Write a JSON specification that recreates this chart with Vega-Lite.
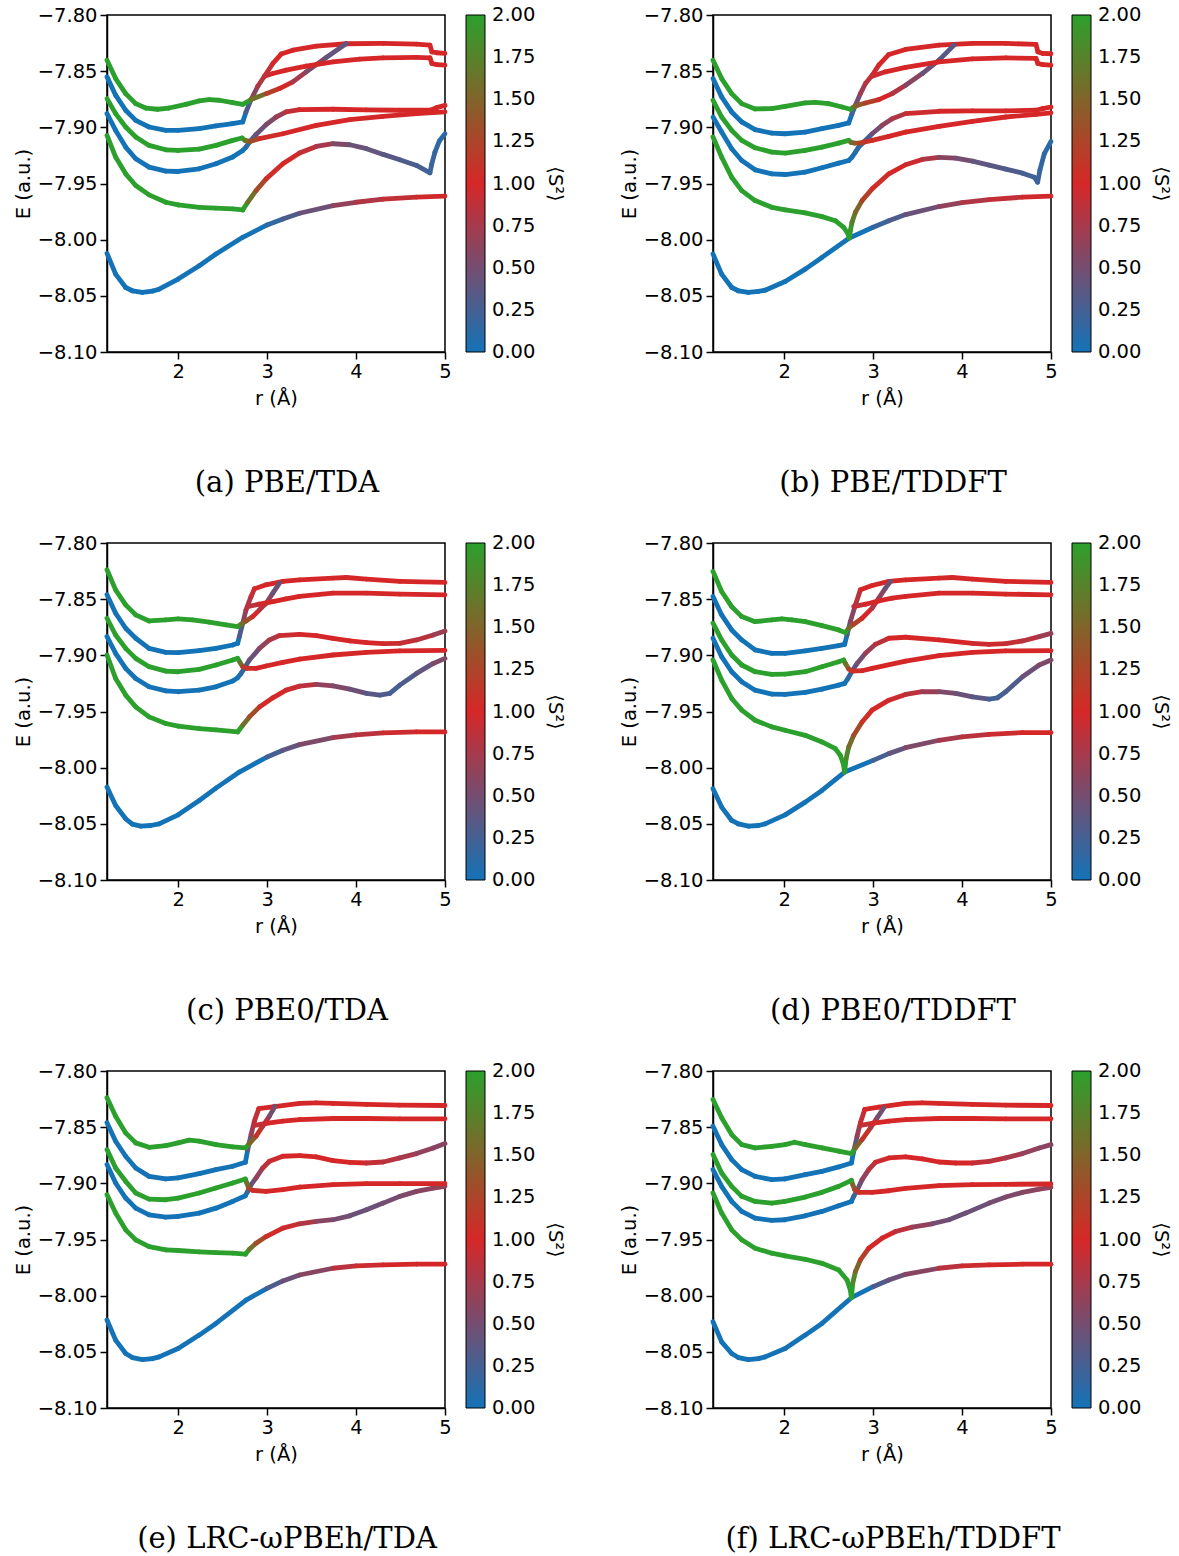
{
"$schema": "https://vega.github.io/schema/vega-lite/v6.json",
"background": "white",
"padding": {"left": 12, "top": 4, "right": 5, "bottom": 5},
"config": {
 "font": "DejaVu Sans",
 "view": {"stroke": "black", "strokeWidth": 1.5},
 "axis": {"domainColor": "black", "domainWidth": 1.5, "tickColor": "black", "tickWidth": 1.5, "tickSize": 7, "labelFontSize": 19.5, "labelColor": "black", "labelPadding": 3, "labelFont": "DejaVu Sans", "labelFlush": false, "labelOverlap": false, "titleFontSize": 19.5, "titleFontWeight": "normal", "titleColor": "black", "titleFont": "DejaVu Sans", "grid": false},
 "axisX": {"titlePadding": 9},
 "legend": {"orient": "right", "offset": 21, "padding": 0, "gradientLength": 337, "gradientThickness": 19, "gradientStrokeColor": "black", "gradientStrokeWidth": 1, "labelFontSize": 19.5, "labelColor": "black", "labelFont": "DejaVu Sans", "labelOffset": 10, "labelOverlap": false, "titleFont": "DejaVu Sans", "titleFontSize": 19.5, "titleFontWeight": "normal", "titleColor": "black", "titleOrient": "right", "titleAngle": 270, "titleAnchor": "middle", "titlePadding": 10},
 "title": {"font": "DejaVu Serif", "fontSize": 29, "fontWeight": "normal", "color": "black", "orient": "bottom", "offset": 61, "anchor": "middle", "frame": "group", "dx": 11}
},
"data": {"values": [
{"p":"a","c":0,"r":1.2,"E":-8.0122,"s":0},{"p":"a","c":0,"r":1.297,"E":-8.0307,"s":0},{"p":"a","c":0,"r":1.41,"E":-8.0426,"s":0},{"p":"a","c":0,"r":1.485,"E":-8.0455,"s":0},{"p":"a","c":0,"r":1.598,"E":-8.047,"s":0},{"p":"a","c":0,"r":1.711,"E":-8.0458,"s":0},{"p":"a","c":0,"r":1.786,"E":-8.0441,"s":0},{"p":"a","c":0,"r":2.0,"E":-8.0351,"s":0},{"p":"a","c":0,"r":2.237,"E":-8.0232,"s":0},{"p":"a","c":0,"r":2.425,"E":-8.0128,"s":0},{"p":"a","c":0,"r":2.726,"E":-7.9979,"s":0},{"p":"a","c":0,"r":3.0,"E":-7.9869,"s":0.15},{"p":"a","c":0,"r":3.177,"E":-7.9816,"s":0.3},{"p":"a","c":0,"r":3.365,"E":-7.9765,"s":0.45},{"p":"a","c":0,"r":3.741,"E":-7.9697,"s":0.65},{"p":"a","c":0,"r":4.0,"E":-7.9667,"s":0.8},{"p":"a","c":0,"r":4.305,"E":-7.964,"s":0.9},{"p":"a","c":0,"r":4.68,"E":-7.9622,"s":0.97},{"p":"a","c":0,"r":5.0,"E":-7.9613,"s":1},
{"p":"a","c":1,"r":1.2,"E":-7.9072,"s":2},{"p":"a","c":1,"r":1.297,"E":-7.9265,"s":2},{"p":"a","c":1,"r":1.41,"E":-7.9414,"s":2},{"p":"a","c":1,"r":1.523,"E":-7.9518,"s":2},{"p":"a","c":1,"r":1.673,"E":-7.9601,"s":2},{"p":"a","c":1,"r":1.861,"E":-7.9667,"s":2},{"p":"a","c":1,"r":2.0,"E":-7.9691,"s":2},{"p":"a","c":1,"r":2.237,"E":-7.9712,"s":2},{"p":"a","c":1,"r":2.425,"E":-7.972,"s":2},{"p":"a","c":1,"r":2.613,"E":-7.9726,"s":2},{"p":"a","c":1,"r":2.726,"E":-7.9735,"s":2},{"p":"a","c":1,"r":2.782,"E":-7.9667,"s":1.6},{"p":"a","c":1,"r":2.876,"E":-7.9563,"s":1.3},{"p":"a","c":1,"r":2.989,"E":-7.9459,"s":1.05},{"p":"a","c":1,"r":3.177,"E":-7.9324,"s":1},{"p":"a","c":1,"r":3.365,"E":-7.9229,"s":0.9},{"p":"a","c":1,"r":3.553,"E":-7.917,"s":0.75},{"p":"a","c":1,"r":3.741,"E":-7.9146,"s":0.55},{"p":"a","c":1,"r":3.929,"E":-7.9155,"s":0.45},{"p":"a","c":1,"r":4.117,"E":-7.919,"s":0.4},{"p":"a","c":1,"r":4.305,"E":-7.9241,"s":0.35},{"p":"a","c":1,"r":4.492,"E":-7.9289,"s":0.3},{"p":"a","c":1,"r":4.68,"E":-7.9339,"s":0.25},{"p":"a","c":1,"r":4.831,"E":-7.9405,"s":0.2},{"p":"a","c":1,"r":4.85,"E":-7.933,"s":0.18},{"p":"a","c":1,"r":4.887,"E":-7.9221,"s":0.15},{"p":"a","c":1,"r":4.936,"E":-7.9122,"s":0.12},{"p":"a","c":1,"r":5.0,"E":-7.9057,"s":0.1},
{"p":"a","c":2,"r":1.2,"E":-7.8878,"s":0},{"p":"a","c":2,"r":1.297,"E":-7.9027,"s":0},{"p":"a","c":2,"r":1.41,"E":-7.9176,"s":0},{"p":"a","c":2,"r":1.523,"E":-7.928,"s":0},{"p":"a","c":2,"r":1.673,"E":-7.9354,"s":0},{"p":"a","c":2,"r":1.861,"E":-7.939,"s":0},{"p":"a","c":2,"r":2.0,"E":-7.9393,"s":0},{"p":"a","c":2,"r":2.237,"E":-7.9369,"s":0},{"p":"a","c":2,"r":2.425,"E":-7.9324,"s":0},{"p":"a","c":2,"r":2.613,"E":-7.9265,"s":0},{"p":"a","c":2,"r":2.726,"E":-7.9206,"s":0},{"p":"a","c":2,"r":2.763,"E":-7.9176,"s":0.15},{"p":"a","c":2,"r":2.801,"E":-7.9131,"s":0.3},{"p":"a","c":2,"r":2.876,"E":-7.9063,"s":0.45},{"p":"a","c":2,"r":2.989,"E":-7.8976,"s":0.55},{"p":"a","c":2,"r":3.102,"E":-7.8908,"s":0.7},{"p":"a","c":2,"r":3.214,"E":-7.8863,"s":0.9},{"p":"a","c":2,"r":3.365,"E":-7.8842,"s":1},{"p":"a","c":2,"r":3.741,"E":-7.8839,"s":1},{"p":"a","c":2,"r":4.117,"E":-7.8845,"s":1},{"p":"a","c":2,"r":4.492,"E":-7.8848,"s":1},{"p":"a","c":2,"r":4.831,"E":-7.8848,"s":1},{"p":"a","c":2,"r":4.906,"E":-7.8825,"s":1},{"p":"a","c":2,"r":5.0,"E":-7.8804,"s":1},
{"p":"a","c":3,"r":1.2,"E":-7.8744,"s":2},{"p":"a","c":3,"r":1.297,"E":-7.8878,"s":2},{"p":"a","c":3,"r":1.41,"E":-7.8997,"s":2},{"p":"a","c":3,"r":1.523,"E":-7.9086,"s":2},{"p":"a","c":3,"r":1.673,"E":-7.9161,"s":2},{"p":"a","c":3,"r":1.861,"E":-7.92,"s":2},{"p":"a","c":3,"r":2.0,"E":-7.9206,"s":2},{"p":"a","c":3,"r":2.237,"E":-7.9194,"s":2},{"p":"a","c":3,"r":2.425,"E":-7.9161,"s":2},{"p":"a","c":3,"r":2.613,"E":-7.9116,"s":2},{"p":"a","c":3,"r":2.718,"E":-7.9095,"s":2},{"p":"a","c":3,"r":2.752,"E":-7.9116,"s":1.6},{"p":"a","c":3,"r":2.808,"E":-7.9125,"s":1.3},{"p":"a","c":3,"r":2.914,"E":-7.9101,"s":1.05},{"p":"a","c":3,"r":3.177,"E":-7.9057,"s":1},{"p":"a","c":3,"r":3.553,"E":-7.8982,"s":1},{"p":"a","c":3,"r":3.929,"E":-7.8932,"s":1},{"p":"a","c":3,"r":4.305,"E":-7.8902,"s":1},{"p":"a","c":3,"r":4.68,"E":-7.8878,"s":1},{"p":"a","c":3,"r":5.0,"E":-7.8863,"s":1},
{"p":"a","c":4,"r":1.2,"E":-7.8551,"s":0},{"p":"a","c":4,"r":1.297,"E":-7.8714,"s":0},{"p":"a","c":4,"r":1.41,"E":-7.8848,"s":0},{"p":"a","c":4,"r":1.523,"E":-7.8938,"s":0},{"p":"a","c":4,"r":1.673,"E":-7.8997,"s":0},{"p":"a","c":4,"r":1.861,"E":-7.9027,"s":0},{"p":"a","c":4,"r":2.0,"E":-7.9027,"s":0},{"p":"a","c":4,"r":2.237,"E":-7.9012,"s":0},{"p":"a","c":4,"r":2.425,"E":-7.8988,"s":0},{"p":"a","c":4,"r":2.613,"E":-7.8967,"s":0},{"p":"a","c":4,"r":2.726,"E":-7.8952,"s":0},{"p":"a","c":4,"r":2.763,"E":-7.8863,"s":0.3},{"p":"a","c":4,"r":2.82,"E":-7.8753,"s":0.6},{"p":"a","c":4,"r":2.895,"E":-7.8634,"s":0.8},{"p":"a","c":4,"r":2.97,"E":-7.8545,"s":0.9},{"p":"a","c":4,"r":3.064,"E":-7.8432,"s":1},{"p":"a","c":4,"r":3.158,"E":-7.8348,"s":1},{"p":"a","c":4,"r":3.289,"E":-7.8313,"s":1},{"p":"a","c":4,"r":3.553,"E":-7.8277,"s":1},{"p":"a","c":4,"r":3.891,"E":-7.8256,"s":1},{"p":"a","c":4,"r":4.305,"E":-7.8253,"s":1},{"p":"a","c":4,"r":4.68,"E":-7.8259,"s":1},{"p":"a","c":4,"r":4.831,"E":-7.8268,"s":1},{"p":"a","c":4,"r":4.853,"E":-7.8328,"s":1},{"p":"a","c":4,"r":4.906,"E":-7.8336,"s":1},{"p":"a","c":4,"r":5.0,"E":-7.8342,"s":1},
{"p":"a","c":5,"r":1.2,"E":-7.8402,"s":2},{"p":"a","c":5,"r":1.297,"E":-7.8566,"s":2},{"p":"a","c":5,"r":1.41,"E":-7.87,"s":2},{"p":"a","c":5,"r":1.523,"E":-7.8789,"s":2},{"p":"a","c":5,"r":1.635,"E":-7.8828,"s":2},{"p":"a","c":5,"r":1.767,"E":-7.8839,"s":2},{"p":"a","c":5,"r":1.898,"E":-7.8828,"s":2},{"p":"a","c":5,"r":2.086,"E":-7.8795,"s":2},{"p":"a","c":5,"r":2.237,"E":-7.8765,"s":2},{"p":"a","c":5,"r":2.35,"E":-7.8753,"s":2},{"p":"a","c":5,"r":2.462,"E":-7.8759,"s":2},{"p":"a","c":5,"r":2.613,"E":-7.878,"s":2},{"p":"a","c":5,"r":2.726,"E":-7.8795,"s":2},{"p":"a","c":5,"r":2.82,"E":-7.8753,"s":1.6},{"p":"a","c":5,"r":2.989,"E":-7.87,"s":1.2},{"p":"a","c":5,"r":3.139,"E":-7.8655,"s":1},{"p":"a","c":5,"r":3.289,"E":-7.8595,"s":0.75},{"p":"a","c":5,"r":3.44,"E":-7.8506,"s":0.55},{"p":"a","c":5,"r":3.665,"E":-7.8378,"s":0.4},{"p":"a","c":5,"r":3.891,"E":-7.8253,"s":0.35},
{"p":"a","c":6,"r":2.97,"E":-7.8545,"s":0.9},{"p":"a","c":6,"r":3.064,"E":-7.8521,"s":1},{"p":"a","c":6,"r":3.214,"E":-7.8491,"s":1},{"p":"a","c":6,"r":3.44,"E":-7.8455,"s":1},{"p":"a","c":6,"r":3.741,"E":-7.8417,"s":1},{"p":"a","c":6,"r":4.041,"E":-7.8393,"s":1},{"p":"a","c":6,"r":4.305,"E":-7.8381,"s":1},{"p":"a","c":6,"r":4.68,"E":-7.8378,"s":1},{"p":"a","c":6,"r":4.831,"E":-7.8381,"s":1},{"p":"a","c":6,"r":4.853,"E":-7.8432,"s":1},{"p":"a","c":6,"r":4.906,"E":-7.8441,"s":1},{"p":"a","c":6,"r":5.0,"E":-7.8446,"s":1},

{"p":"b","c":0,"r":1.2,"E":-8.0128,"s":0},{"p":"b","c":0,"r":1.297,"E":-8.0307,"s":0},{"p":"b","c":0,"r":1.41,"E":-8.0426,"s":0},{"p":"b","c":0,"r":1.485,"E":-8.0455,"s":0},{"p":"b","c":0,"r":1.598,"E":-8.047,"s":0},{"p":"b","c":0,"r":1.711,"E":-8.0461,"s":0},{"p":"b","c":0,"r":1.786,"E":-8.045,"s":0},{"p":"b","c":0,"r":2.011,"E":-8.0372,"s":0},{"p":"b","c":0,"r":2.237,"E":-8.0262,"s":0},{"p":"b","c":0,"r":2.425,"E":-8.0158,"s":0},{"p":"b","c":0,"r":2.733,"E":-7.9985,"s":0},{"p":"b","c":0,"r":3.0,"E":-7.989,"s":0.2},{"p":"b","c":0,"r":3.177,"E":-7.9831,"s":0.3},{"p":"b","c":0,"r":3.365,"E":-7.9777,"s":0.45},{"p":"b","c":0,"r":3.741,"E":-7.9705,"s":0.65},{"p":"b","c":0,"r":4.0,"E":-7.967,"s":0.8},{"p":"b","c":0,"r":4.305,"E":-7.9643,"s":0.9},{"p":"b","c":0,"r":4.68,"E":-7.9622,"s":0.97},{"p":"b","c":0,"r":5.0,"E":-7.9613,"s":1},
{"p":"b","c":1,"r":1.2,"E":-7.9086,"s":2},{"p":"b","c":1,"r":1.297,"E":-7.9265,"s":2},{"p":"b","c":1,"r":1.41,"E":-7.9444,"s":2},{"p":"b","c":1,"r":1.523,"E":-7.9563,"s":2},{"p":"b","c":1,"r":1.673,"E":-7.9652,"s":2},{"p":"b","c":1,"r":1.861,"E":-7.9712,"s":2},{"p":"b","c":1,"r":2.011,"E":-7.9735,"s":2},{"p":"b","c":1,"r":2.237,"E":-7.9762,"s":2},{"p":"b","c":1,"r":2.425,"E":-7.9795,"s":2},{"p":"b","c":1,"r":2.575,"E":-7.9831,"s":2},{"p":"b","c":1,"r":2.669,"E":-7.989,"s":2},{"p":"b","c":1,"r":2.718,"E":-7.995,"s":2},{"p":"b","c":1,"r":2.733,"E":-7.9985,"s":2},{"p":"b","c":1,"r":2.744,"E":-7.992,"s":1.9},{"p":"b","c":1,"r":2.763,"E":-7.9845,"s":1.7},{"p":"b","c":1,"r":2.801,"E":-7.9756,"s":1.5},{"p":"b","c":1,"r":2.876,"E":-7.9652,"s":1.2},{"p":"b","c":1,"r":2.989,"E":-7.9548,"s":1.05},{"p":"b","c":1,"r":3.177,"E":-7.9414,"s":1},{"p":"b","c":1,"r":3.365,"E":-7.9333,"s":0.95},{"p":"b","c":1,"r":3.553,"E":-7.9286,"s":0.8},{"p":"b","c":1,"r":3.741,"E":-7.9268,"s":0.6},{"p":"b","c":1,"r":3.929,"E":-7.9274,"s":0.5},{"p":"b","c":1,"r":4.117,"E":-7.9301,"s":0.4},{"p":"b","c":1,"r":4.305,"E":-7.9336,"s":0.35},{"p":"b","c":1,"r":4.492,"E":-7.9372,"s":0.3},{"p":"b","c":1,"r":4.68,"E":-7.9408,"s":0.25},{"p":"b","c":1,"r":4.812,"E":-7.9444,"s":0.2},{"p":"b","c":1,"r":4.85,"E":-7.9488,"s":0.2},{"p":"b","c":1,"r":4.876,"E":-7.9378,"s":0.15},{"p":"b","c":1,"r":4.925,"E":-7.9235,"s":0.12},{"p":"b","c":1,"r":5.0,"E":-7.9125,"s":0.1},
{"p":"b","c":2,"r":1.2,"E":-7.8908,"s":0},{"p":"b","c":2,"r":1.297,"E":-7.9042,"s":0},{"p":"b","c":2,"r":1.41,"E":-7.9191,"s":0},{"p":"b","c":2,"r":1.523,"E":-7.9295,"s":0},{"p":"b","c":2,"r":1.673,"E":-7.9378,"s":0},{"p":"b","c":2,"r":1.861,"E":-7.9414,"s":0},{"p":"b","c":2,"r":2.011,"E":-7.942,"s":0},{"p":"b","c":2,"r":2.237,"E":-7.9399,"s":0},{"p":"b","c":2,"r":2.425,"E":-7.936,"s":0},{"p":"b","c":2,"r":2.613,"E":-7.9319,"s":0},{"p":"b","c":2,"r":2.726,"E":-7.9295,"s":0},{"p":"b","c":2,"r":2.763,"E":-7.9265,"s":0.05},{"p":"b","c":2,"r":2.801,"E":-7.9221,"s":0.1},{"p":"b","c":2,"r":2.838,"E":-7.9176,"s":0.15},{"p":"b","c":2,"r":2.895,"E":-7.9131,"s":0.25},{"p":"b","c":2,"r":2.989,"E":-7.9057,"s":0.5},{"p":"b","c":2,"r":3.102,"E":-7.8982,"s":0.65},{"p":"b","c":2,"r":3.214,"E":-7.8923,"s":0.8},{"p":"b","c":2,"r":3.365,"E":-7.8878,"s":0.95},{"p":"b","c":2,"r":3.741,"E":-7.8857,"s":1},{"p":"b","c":2,"r":4.117,"E":-7.8854,"s":1},{"p":"b","c":2,"r":4.492,"E":-7.8854,"s":1},{"p":"b","c":2,"r":4.831,"E":-7.8848,"s":1},{"p":"b","c":2,"r":4.906,"E":-7.8833,"s":1},{"p":"b","c":2,"r":5.0,"E":-7.8819,"s":1},
{"p":"b","c":3,"r":1.2,"E":-7.8759,"s":2},{"p":"b","c":3,"r":1.297,"E":-7.8908,"s":2},{"p":"b","c":3,"r":1.41,"E":-7.9027,"s":2},{"p":"b","c":3,"r":1.523,"E":-7.9116,"s":2},{"p":"b","c":3,"r":1.673,"E":-7.9182,"s":2},{"p":"b","c":3,"r":1.861,"E":-7.9221,"s":2},{"p":"b","c":3,"r":2.011,"E":-7.9229,"s":2},{"p":"b","c":3,"r":2.237,"E":-7.9206,"s":2},{"p":"b","c":3,"r":2.425,"E":-7.9176,"s":2},{"p":"b","c":3,"r":2.613,"E":-7.914,"s":2},{"p":"b","c":3,"r":2.726,"E":-7.9116,"s":2},{"p":"b","c":3,"r":2.752,"E":-7.9134,"s":1.6},{"p":"b","c":3,"r":2.79,"E":-7.914,"s":1.4},{"p":"b","c":3,"r":2.846,"E":-7.914,"s":1.2},{"p":"b","c":3,"r":2.895,"E":-7.9131,"s":1.1},{"p":"b","c":3,"r":2.989,"E":-7.9116,"s":1.05},{"p":"b","c":3,"r":3.177,"E":-7.908,"s":1},{"p":"b","c":3,"r":3.365,"E":-7.9042,"s":1},{"p":"b","c":3,"r":3.741,"E":-7.8991,"s":1},{"p":"b","c":3,"r":4.117,"E":-7.8947,"s":1},{"p":"b","c":3,"r":4.492,"E":-7.8908,"s":1},{"p":"b","c":3,"r":4.831,"E":-7.8884,"s":1},{"p":"b","c":3,"r":5.0,"E":-7.8872,"s":1},
{"p":"b","c":4,"r":1.2,"E":-7.8566,"s":0},{"p":"b","c":4,"r":1.297,"E":-7.8729,"s":0},{"p":"b","c":4,"r":1.41,"E":-7.8863,"s":0},{"p":"b","c":4,"r":1.523,"E":-7.8952,"s":0},{"p":"b","c":4,"r":1.673,"E":-7.9021,"s":0},{"p":"b","c":4,"r":1.861,"E":-7.9051,"s":0},{"p":"b","c":4,"r":2.011,"E":-7.9057,"s":0},{"p":"b","c":4,"r":2.237,"E":-7.9042,"s":0},{"p":"b","c":4,"r":2.425,"E":-7.9012,"s":0},{"p":"b","c":4,"r":2.613,"E":-7.8982,"s":0},{"p":"b","c":4,"r":2.726,"E":-7.8961,"s":0},{"p":"b","c":4,"r":2.763,"E":-7.8878,"s":0.25},{"p":"b","c":4,"r":2.801,"E":-7.8804,"s":0.5},{"p":"b","c":4,"r":2.857,"E":-7.87,"s":0.7},{"p":"b","c":4,"r":2.914,"E":-7.861,"s":0.85},{"p":"b","c":4,"r":2.989,"E":-7.8536,"s":0.95},{"p":"b","c":4,"r":3.064,"E":-7.8446,"s":1},{"p":"b","c":4,"r":3.177,"E":-7.8351,"s":1},{"p":"b","c":4,"r":3.365,"E":-7.8307,"s":1},{"p":"b","c":4,"r":3.741,"E":-7.8268,"s":1},{"p":"b","c":4,"r":4.117,"E":-7.8253,"s":1},{"p":"b","c":4,"r":4.492,"E":-7.8253,"s":1},{"p":"b","c":4,"r":4.831,"E":-7.8262,"s":1},{"p":"b","c":4,"r":4.853,"E":-7.8328,"s":1},{"p":"b","c":4,"r":4.906,"E":-7.8342,"s":1},{"p":"b","c":4,"r":5.0,"E":-7.8345,"s":1},
{"p":"b","c":5,"r":1.2,"E":-7.8402,"s":2},{"p":"b","c":5,"r":1.297,"E":-7.8566,"s":2},{"p":"b","c":5,"r":1.41,"E":-7.87,"s":2},{"p":"b","c":5,"r":1.523,"E":-7.8789,"s":2},{"p":"b","c":5,"r":1.673,"E":-7.8836,"s":2},{"p":"b","c":5,"r":1.861,"E":-7.8833,"s":2},{"p":"b","c":5,"r":2.011,"E":-7.8813,"s":2},{"p":"b","c":5,"r":2.237,"E":-7.8783,"s":2},{"p":"b","c":5,"r":2.35,"E":-7.8777,"s":2},{"p":"b","c":5,"r":2.5,"E":-7.8789,"s":2},{"p":"b","c":5,"r":2.65,"E":-7.8819,"s":2},{"p":"b","c":5,"r":2.744,"E":-7.8839,"s":2},{"p":"b","c":5,"r":2.782,"E":-7.8819,"s":1.6},{"p":"b","c":5,"r":2.82,"E":-7.8804,"s":1.4},{"p":"b","c":5,"r":2.914,"E":-7.8783,"s":1.2},{"p":"b","c":5,"r":3.064,"E":-7.8753,"s":1},{"p":"b","c":5,"r":3.214,"E":-7.87,"s":0.8},{"p":"b","c":5,"r":3.365,"E":-7.8625,"s":0.6},{"p":"b","c":5,"r":3.553,"E":-7.8521,"s":0.45},{"p":"b","c":5,"r":3.741,"E":-7.8402,"s":0.35},{"p":"b","c":5,"r":3.91,"E":-7.8268,"s":0.3},
{"p":"b","c":6,"r":2.989,"E":-7.8545,"s":0.95},{"p":"b","c":6,"r":3.139,"E":-7.8506,"s":1},{"p":"b","c":6,"r":3.365,"E":-7.8467,"s":1},{"p":"b","c":6,"r":3.741,"E":-7.8417,"s":1},{"p":"b","c":6,"r":4.117,"E":-7.839,"s":1},{"p":"b","c":6,"r":4.492,"E":-7.8381,"s":1},{"p":"b","c":6,"r":4.831,"E":-7.8387,"s":1},{"p":"b","c":6,"r":4.853,"E":-7.8432,"s":1},{"p":"b","c":6,"r":4.906,"E":-7.8441,"s":1},{"p":"b","c":6,"r":5.0,"E":-7.8446,"s":1},

{"p":"c","c":0,"r":1.2,"E":-8.0173,"s":0},{"p":"c","c":0,"r":1.297,"E":-8.0337,"s":0},{"p":"c","c":0,"r":1.41,"E":-8.0455,"s":0},{"p":"c","c":0,"r":1.485,"E":-8.0502,"s":0},{"p":"c","c":0,"r":1.579,"E":-8.0521,"s":0},{"p":"c","c":0,"r":1.69,"E":-8.0515,"s":0},{"p":"c","c":0,"r":1.786,"E":-8.05,"s":0},{"p":"c","c":0,"r":2.0,"E":-8.042,"s":0},{"p":"c","c":0,"r":2.237,"E":-8.0292,"s":0},{"p":"c","c":0,"r":2.425,"E":-8.0182,"s":0},{"p":"c","c":0,"r":2.688,"E":-8.0039,"s":0},{"p":"c","c":0,"r":3.0,"E":-7.9905,"s":0.25},{"p":"c","c":0,"r":3.177,"E":-7.9845,"s":0.4},{"p":"c","c":0,"r":3.365,"E":-7.9795,"s":0.55},{"p":"c","c":0,"r":3.741,"E":-7.9732,"s":0.75},{"p":"c","c":0,"r":4.0,"E":-7.9709,"s":0.85},{"p":"c","c":0,"r":4.305,"E":-7.9691,"s":0.95},{"p":"c","c":0,"r":4.68,"E":-7.9682,"s":1},{"p":"c","c":0,"r":5.0,"E":-7.9682,"s":1},
{"p":"c","c":1,"r":1.2,"E":-7.8997,"s":2},{"p":"c","c":1,"r":1.297,"E":-7.9206,"s":2},{"p":"c","c":1,"r":1.41,"E":-7.9354,"s":2},{"p":"c","c":1,"r":1.523,"E":-7.9459,"s":2},{"p":"c","c":1,"r":1.673,"E":-7.9548,"s":2},{"p":"c","c":1,"r":1.861,"E":-7.9607,"s":2},{"p":"c","c":1,"r":2.0,"E":-7.9631,"s":2},{"p":"c","c":1,"r":2.237,"E":-7.9652,"s":2},{"p":"c","c":1,"r":2.425,"E":-7.9664,"s":2},{"p":"c","c":1,"r":2.669,"E":-7.9682,"s":2},{"p":"c","c":1,"r":2.726,"E":-7.9622,"s":1.6},{"p":"c","c":1,"r":2.801,"E":-7.9548,"s":1.3},{"p":"c","c":1,"r":2.914,"E":-7.9459,"s":1.05},{"p":"c","c":1,"r":3.064,"E":-7.9378,"s":1},{"p":"c","c":1,"r":3.214,"E":-7.931,"s":0.95},{"p":"c","c":1,"r":3.365,"E":-7.9274,"s":0.85},{"p":"c","c":1,"r":3.553,"E":-7.9259,"s":0.65},{"p":"c","c":1,"r":3.741,"E":-7.9271,"s":0.55},{"p":"c","c":1,"r":3.929,"E":-7.9301,"s":0.45},{"p":"c","c":1,"r":4.117,"E":-7.9339,"s":0.35},{"p":"c","c":1,"r":4.267,"E":-7.9354,"s":0.3},{"p":"c","c":1,"r":4.38,"E":-7.9339,"s":0.25},{"p":"c","c":1,"r":4.492,"E":-7.9265,"s":0.3},{"p":"c","c":1,"r":4.68,"E":-7.9161,"s":0.4},{"p":"c","c":1,"r":4.868,"E":-7.9072,"s":0.55},{"p":"c","c":1,"r":5.0,"E":-7.9027,"s":0.6},
{"p":"c","c":2,"r":1.2,"E":-7.8833,"s":0},{"p":"c","c":2,"r":1.297,"E":-7.8982,"s":0},{"p":"c","c":2,"r":1.41,"E":-7.9116,"s":0},{"p":"c","c":2,"r":1.523,"E":-7.9206,"s":0},{"p":"c","c":2,"r":1.673,"E":-7.928,"s":0},{"p":"c","c":2,"r":1.861,"E":-7.9316,"s":0},{"p":"c","c":2,"r":2.0,"E":-7.9324,"s":0},{"p":"c","c":2,"r":2.237,"E":-7.931,"s":0},{"p":"c","c":2,"r":2.425,"E":-7.928,"s":0},{"p":"c","c":2,"r":2.613,"E":-7.9229,"s":0},{"p":"c","c":2,"r":2.669,"E":-7.92,"s":0},{"p":"c","c":2,"r":2.707,"E":-7.9161,"s":0.15},{"p":"c","c":2,"r":2.744,"E":-7.9116,"s":0.3},{"p":"c","c":2,"r":2.801,"E":-7.9042,"s":0.45},{"p":"c","c":2,"r":2.914,"E":-7.8938,"s":0.65},{"p":"c","c":2,"r":3.026,"E":-7.8863,"s":0.8},{"p":"c","c":2,"r":3.139,"E":-7.8824,"s":0.95},{"p":"c","c":2,"r":3.365,"E":-7.8813,"s":1},{"p":"c","c":2,"r":3.553,"E":-7.8824,"s":1},{"p":"c","c":2,"r":3.741,"E":-7.8848,"s":1},{"p":"c","c":2,"r":3.929,"E":-7.8872,"s":1},{"p":"c","c":2,"r":4.117,"E":-7.8887,"s":1},{"p":"c","c":2,"r":4.305,"E":-7.8896,"s":0.95},{"p":"c","c":2,"r":4.492,"E":-7.8893,"s":0.9},{"p":"c","c":2,"r":4.68,"E":-7.8863,"s":0.85},{"p":"c","c":2,"r":4.868,"E":-7.8819,"s":0.7},{"p":"c","c":2,"r":5.0,"E":-7.8783,"s":0.6},
{"p":"c","c":3,"r":1.2,"E":-7.867,"s":2},{"p":"c","c":3,"r":1.297,"E":-7.8819,"s":2},{"p":"c","c":3,"r":1.41,"E":-7.8938,"s":2},{"p":"c","c":3,"r":1.523,"E":-7.9027,"s":2},{"p":"c","c":3,"r":1.673,"E":-7.9101,"s":2},{"p":"c","c":3,"r":1.861,"E":-7.914,"s":2},{"p":"c","c":3,"r":2.0,"E":-7.9146,"s":2},{"p":"c","c":3,"r":2.237,"E":-7.9125,"s":2},{"p":"c","c":3,"r":2.425,"E":-7.9086,"s":2},{"p":"c","c":3,"r":2.613,"E":-7.9042,"s":2},{"p":"c","c":3,"r":2.669,"E":-7.9027,"s":2},{"p":"c","c":3,"r":2.696,"E":-7.9063,"s":1.6},{"p":"c","c":3,"r":2.726,"E":-7.9101,"s":1.2},{"p":"c","c":3,"r":2.771,"E":-7.9116,"s":1.05},{"p":"c","c":3,"r":2.876,"E":-7.9116,"s":1},{"p":"c","c":3,"r":2.989,"E":-7.9095,"s":1},{"p":"c","c":3,"r":3.177,"E":-7.9063,"s":1},{"p":"c","c":3,"r":3.365,"E":-7.9033,"s":1},{"p":"c","c":3,"r":3.741,"E":-7.8997,"s":1},{"p":"c","c":3,"r":4.117,"E":-7.8973,"s":1},{"p":"c","c":3,"r":4.492,"E":-7.8961,"s":1},{"p":"c","c":3,"r":5.0,"E":-7.8955,"s":1},
{"p":"c","c":4,"r":1.2,"E":-7.8461,"s":0},{"p":"c","c":4,"r":1.297,"E":-7.8625,"s":0},{"p":"c","c":4,"r":1.41,"E":-7.8759,"s":0},{"p":"c","c":4,"r":1.523,"E":-7.8848,"s":0},{"p":"c","c":4,"r":1.673,"E":-7.8938,"s":0},{"p":"c","c":4,"r":1.861,"E":-7.8973,"s":0},{"p":"c","c":4,"r":2.0,"E":-7.8976,"s":0},{"p":"c","c":4,"r":2.237,"E":-7.8958,"s":0},{"p":"c","c":4,"r":2.425,"E":-7.8938,"s":0},{"p":"c","c":4,"r":2.613,"E":-7.8908,"s":0},{"p":"c","c":4,"r":2.669,"E":-7.8893,"s":0},{"p":"c","c":4,"r":2.688,"E":-7.8833,"s":0.3},{"p":"c","c":4,"r":2.726,"E":-7.8714,"s":0.6},{"p":"c","c":4,"r":2.763,"E":-7.8595,"s":0.8},{"p":"c","c":4,"r":2.82,"E":-7.8476,"s":0.9},{"p":"c","c":4,"r":2.857,"E":-7.8408,"s":1},{"p":"c","c":4,"r":2.989,"E":-7.8372,"s":1},{"p":"c","c":4,"r":3.177,"E":-7.8342,"s":1},{"p":"c","c":4,"r":3.365,"E":-7.8328,"s":1},{"p":"c","c":4,"r":3.741,"E":-7.8313,"s":1},{"p":"c","c":4,"r":3.891,"E":-7.8307,"s":1},{"p":"c","c":4,"r":4.117,"E":-7.8322,"s":1},{"p":"c","c":4,"r":4.492,"E":-7.8342,"s":1},{"p":"c","c":4,"r":5.0,"E":-7.8351,"s":1},
{"p":"c","c":5,"r":1.2,"E":-7.8238,"s":2},{"p":"c","c":5,"r":1.297,"E":-7.8417,"s":2},{"p":"c","c":5,"r":1.41,"E":-7.8551,"s":2},{"p":"c","c":5,"r":1.523,"E":-7.864,"s":2},{"p":"c","c":5,"r":1.673,"E":-7.8694,"s":2},{"p":"c","c":5,"r":1.861,"E":-7.8685,"s":2},{"p":"c","c":5,"r":2.0,"E":-7.8676,"s":2},{"p":"c","c":5,"r":2.162,"E":-7.8685,"s":2},{"p":"c","c":5,"r":2.35,"E":-7.8705,"s":2},{"p":"c","c":5,"r":2.538,"E":-7.8729,"s":2},{"p":"c","c":5,"r":2.669,"E":-7.8744,"s":2},{"p":"c","c":5,"r":2.707,"E":-7.8723,"s":1.6},{"p":"c","c":5,"r":2.763,"E":-7.8694,"s":1.3},{"p":"c","c":5,"r":2.838,"E":-7.8655,"s":1},{"p":"c","c":5,"r":2.914,"E":-7.8595,"s":0.8},{"p":"c","c":5,"r":2.989,"E":-7.8536,"s":0.6},{"p":"c","c":5,"r":3.064,"E":-7.8446,"s":0.45},{"p":"c","c":5,"r":3.139,"E":-7.8357,"s":0.35},
{"p":"c","c":6,"r":2.782,"E":-7.8566,"s":0.85},{"p":"c","c":6,"r":2.914,"E":-7.8545,"s":1},{"p":"c","c":6,"r":3.064,"E":-7.8521,"s":1},{"p":"c","c":6,"r":3.214,"E":-7.8497,"s":1},{"p":"c","c":6,"r":3.365,"E":-7.8476,"s":1},{"p":"c","c":6,"r":3.741,"E":-7.8446,"s":1},{"p":"c","c":6,"r":4.117,"E":-7.8446,"s":1},{"p":"c","c":6,"r":4.492,"E":-7.8455,"s":1},{"p":"c","c":6,"r":5.0,"E":-7.8461,"s":1},

{"p":"d","c":0,"r":1.2,"E":-8.0188,"s":0},{"p":"d","c":0,"r":1.297,"E":-8.0351,"s":0},{"p":"d","c":0,"r":1.41,"E":-8.047,"s":0},{"p":"d","c":0,"r":1.485,"E":-8.0501,"s":0},{"p":"d","c":0,"r":1.598,"E":-8.0521,"s":0},{"p":"d","c":0,"r":1.711,"E":-8.0515,"s":0},{"p":"d","c":0,"r":1.786,"E":-8.05,"s":0},{"p":"d","c":0,"r":2.011,"E":-8.042,"s":0},{"p":"d","c":0,"r":2.237,"E":-8.0307,"s":0},{"p":"d","c":0,"r":2.425,"E":-8.0203,"s":0},{"p":"d","c":0,"r":2.68,"E":-8.0039,"s":0},{"p":"d","c":0,"r":3.0,"E":-7.9935,"s":0.25},{"p":"d","c":0,"r":3.177,"E":-7.9875,"s":0.4},{"p":"d","c":0,"r":3.365,"E":-7.9822,"s":0.55},{"p":"d","c":0,"r":3.741,"E":-7.9756,"s":0.75},{"p":"d","c":0,"r":4.0,"E":-7.9726,"s":0.85},{"p":"d","c":0,"r":4.305,"E":-7.9703,"s":0.95},{"p":"d","c":0,"r":4.68,"E":-7.9688,"s":1},{"p":"d","c":0,"r":5.0,"E":-7.9688,"s":1},
{"p":"d","c":1,"r":1.2,"E":-7.9042,"s":2},{"p":"d","c":1,"r":1.297,"E":-7.9221,"s":2},{"p":"d","c":1,"r":1.41,"E":-7.9384,"s":2},{"p":"d","c":1,"r":1.523,"E":-7.9488,"s":2},{"p":"d","c":1,"r":1.673,"E":-7.9578,"s":2},{"p":"d","c":1,"r":1.861,"E":-7.9637,"s":2},{"p":"d","c":1,"r":2.011,"E":-7.9667,"s":2},{"p":"d","c":1,"r":2.237,"E":-7.9712,"s":2},{"p":"d","c":1,"r":2.425,"E":-7.9771,"s":2},{"p":"d","c":1,"r":2.575,"E":-7.9831,"s":2},{"p":"d","c":1,"r":2.631,"E":-7.989,"s":2},{"p":"d","c":1,"r":2.665,"E":-7.9965,"s":2},{"p":"d","c":1,"r":2.68,"E":-8.0039,"s":2},{"p":"d","c":1,"r":2.696,"E":-7.992,"s":1.8},{"p":"d","c":1,"r":2.726,"E":-7.9816,"s":1.55},{"p":"d","c":1,"r":2.782,"E":-7.9712,"s":1.3},{"p":"d","c":1,"r":2.876,"E":-7.9593,"s":1.05},{"p":"d","c":1,"r":2.989,"E":-7.9488,"s":1},{"p":"d","c":1,"r":3.177,"E":-7.9399,"s":0.95},{"p":"d","c":1,"r":3.365,"E":-7.9348,"s":0.85},{"p":"d","c":1,"r":3.553,"E":-7.9324,"s":0.7},{"p":"d","c":1,"r":3.741,"E":-7.9324,"s":0.55},{"p":"d","c":1,"r":3.929,"E":-7.9339,"s":0.45},{"p":"d","c":1,"r":4.117,"E":-7.9369,"s":0.35},{"p":"d","c":1,"r":4.305,"E":-7.939,"s":0.25},{"p":"d","c":1,"r":4.398,"E":-7.9378,"s":0.25},{"p":"d","c":1,"r":4.492,"E":-7.9324,"s":0.3},{"p":"d","c":1,"r":4.68,"E":-7.9191,"s":0.45},{"p":"d","c":1,"r":4.868,"E":-7.9086,"s":0.55},{"p":"d","c":1,"r":5.0,"E":-7.9042,"s":0.6},
{"p":"d","c":2,"r":1.2,"E":-7.8848,"s":0},{"p":"d","c":2,"r":1.297,"E":-7.9012,"s":0},{"p":"d","c":2,"r":1.41,"E":-7.9146,"s":0},{"p":"d","c":2,"r":1.523,"E":-7.9235,"s":0},{"p":"d","c":2,"r":1.673,"E":-7.931,"s":0},{"p":"d","c":2,"r":1.861,"E":-7.9345,"s":0},{"p":"d","c":2,"r":2.011,"E":-7.9348,"s":0},{"p":"d","c":2,"r":2.237,"E":-7.933,"s":0},{"p":"d","c":2,"r":2.425,"E":-7.9301,"s":0},{"p":"d","c":2,"r":2.613,"E":-7.9265,"s":0},{"p":"d","c":2,"r":2.68,"E":-7.925,"s":0},{"p":"d","c":2,"r":2.718,"E":-7.9206,"s":0.15},{"p":"d","c":2,"r":2.763,"E":-7.914,"s":0.35},{"p":"d","c":2,"r":2.82,"E":-7.9072,"s":0.5},{"p":"d","c":2,"r":2.914,"E":-7.8982,"s":0.7},{"p":"d","c":2,"r":3.026,"E":-7.8902,"s":0.85},{"p":"d","c":2,"r":3.177,"E":-7.8848,"s":1},{"p":"d","c":2,"r":3.365,"E":-7.8839,"s":1},{"p":"d","c":2,"r":3.741,"E":-7.8863,"s":1},{"p":"d","c":2,"r":4.117,"E":-7.8893,"s":0.95},{"p":"d","c":2,"r":4.305,"E":-7.8902,"s":0.95},{"p":"d","c":2,"r":4.492,"E":-7.8896,"s":0.9},{"p":"d","c":2,"r":4.68,"E":-7.8872,"s":0.85},{"p":"d","c":2,"r":4.868,"E":-7.8833,"s":0.7},{"p":"d","c":2,"r":5.0,"E":-7.8804,"s":0.6},
{"p":"d","c":3,"r":1.2,"E":-7.8714,"s":2},{"p":"d","c":3,"r":1.297,"E":-7.8863,"s":2},{"p":"d","c":3,"r":1.41,"E":-7.8997,"s":2},{"p":"d","c":3,"r":1.523,"E":-7.9086,"s":2},{"p":"d","c":3,"r":1.673,"E":-7.9146,"s":2},{"p":"d","c":3,"r":1.861,"E":-7.917,"s":2},{"p":"d","c":3,"r":2.011,"E":-7.9167,"s":2},{"p":"d","c":3,"r":2.237,"E":-7.9146,"s":2},{"p":"d","c":3,"r":2.425,"E":-7.9101,"s":2},{"p":"d","c":3,"r":2.613,"E":-7.9057,"s":2},{"p":"d","c":3,"r":2.669,"E":-7.9042,"s":2},{"p":"d","c":3,"r":2.688,"E":-7.9072,"s":1.6},{"p":"d","c":3,"r":2.726,"E":-7.9122,"s":1.2},{"p":"d","c":3,"r":2.763,"E":-7.914,"s":1.05},{"p":"d","c":3,"r":2.876,"E":-7.9137,"s":1},{"p":"d","c":3,"r":2.989,"E":-7.9116,"s":1},{"p":"d","c":3,"r":3.365,"E":-7.9051,"s":1},{"p":"d","c":3,"r":3.741,"E":-7.9003,"s":1},{"p":"d","c":3,"r":4.117,"E":-7.8973,"s":1},{"p":"d","c":3,"r":4.492,"E":-7.8961,"s":1},{"p":"d","c":3,"r":5.0,"E":-7.8958,"s":1},
{"p":"d","c":4,"r":1.2,"E":-7.8476,"s":0},{"p":"d","c":4,"r":1.297,"E":-7.864,"s":0},{"p":"d","c":4,"r":1.41,"E":-7.8774,"s":0},{"p":"d","c":4,"r":1.523,"E":-7.8863,"s":0},{"p":"d","c":4,"r":1.673,"E":-7.8952,"s":0},{"p":"d","c":4,"r":1.861,"E":-7.8982,"s":0},{"p":"d","c":4,"r":2.011,"E":-7.8982,"s":0},{"p":"d","c":4,"r":2.237,"E":-7.8961,"s":0},{"p":"d","c":4,"r":2.425,"E":-7.8938,"s":0},{"p":"d","c":4,"r":2.613,"E":-7.8914,"s":0},{"p":"d","c":4,"r":2.68,"E":-7.8902,"s":0},{"p":"d","c":4,"r":2.707,"E":-7.8819,"s":0.3},{"p":"d","c":4,"r":2.744,"E":-7.87,"s":0.6},{"p":"d","c":4,"r":2.801,"E":-7.8551,"s":0.85},{"p":"d","c":4,"r":2.857,"E":-7.8417,"s":1},{"p":"d","c":4,"r":2.989,"E":-7.8378,"s":1},{"p":"d","c":4,"r":3.177,"E":-7.8342,"s":1},{"p":"d","c":4,"r":3.365,"E":-7.8328,"s":1},{"p":"d","c":4,"r":3.741,"E":-7.8313,"s":1},{"p":"d","c":4,"r":3.891,"E":-7.8307,"s":1},{"p":"d","c":4,"r":4.117,"E":-7.8322,"s":1},{"p":"d","c":4,"r":4.492,"E":-7.8342,"s":1},{"p":"d","c":4,"r":5.0,"E":-7.8351,"s":1},
{"p":"d","c":5,"r":1.2,"E":-7.8253,"s":2},{"p":"d","c":5,"r":1.297,"E":-7.8432,"s":2},{"p":"d","c":5,"r":1.41,"E":-7.8566,"s":2},{"p":"d","c":5,"r":1.523,"E":-7.8655,"s":2},{"p":"d","c":5,"r":1.673,"E":-7.87,"s":2},{"p":"d","c":5,"r":1.861,"E":-7.8685,"s":2},{"p":"d","c":5,"r":1.974,"E":-7.8676,"s":2},{"p":"d","c":5,"r":2.086,"E":-7.8685,"s":2},{"p":"d","c":5,"r":2.237,"E":-7.87,"s":2},{"p":"d","c":5,"r":2.425,"E":-7.8735,"s":2},{"p":"d","c":5,"r":2.613,"E":-7.8774,"s":2},{"p":"d","c":5,"r":2.688,"E":-7.8798,"s":2},{"p":"d","c":5,"r":2.726,"E":-7.8759,"s":1.5},{"p":"d","c":5,"r":2.782,"E":-7.8723,"s":1.2},{"p":"d","c":5,"r":2.876,"E":-7.867,"s":1},{"p":"d","c":5,"r":2.989,"E":-7.858,"s":0.8},{"p":"d","c":5,"r":3.064,"E":-7.8491,"s":0.6},{"p":"d","c":5,"r":3.139,"E":-7.8402,"s":0.45},{"p":"d","c":5,"r":3.196,"E":-7.8342,"s":0.35},
{"p":"d","c":6,"r":2.782,"E":-7.8566,"s":0.9},{"p":"d","c":6,"r":2.914,"E":-7.8545,"s":1},{"p":"d","c":6,"r":3.064,"E":-7.8515,"s":1},{"p":"d","c":6,"r":3.214,"E":-7.8491,"s":1},{"p":"d","c":6,"r":3.365,"E":-7.8476,"s":1},{"p":"d","c":6,"r":3.741,"E":-7.8446,"s":1},{"p":"d","c":6,"r":4.117,"E":-7.8446,"s":1},{"p":"d","c":6,"r":4.492,"E":-7.8455,"s":1},{"p":"d","c":6,"r":5.0,"E":-7.8461,"s":1},

{"p":"e","c":0,"r":1.2,"E":-8.0217,"s":0},{"p":"e","c":0,"r":1.297,"E":-8.0396,"s":0},{"p":"e","c":0,"r":1.41,"E":-8.0515,"s":0},{"p":"e","c":0,"r":1.485,"E":-8.0551,"s":0},{"p":"e","c":0,"r":1.598,"E":-8.0569,"s":0},{"p":"e","c":0,"r":1.711,"E":-8.0561,"s":0},{"p":"e","c":0,"r":1.786,"E":-8.0545,"s":0},{"p":"e","c":0,"r":2.0,"E":-8.047,"s":0},{"p":"e","c":0,"r":2.237,"E":-8.0351,"s":0},{"p":"e","c":0,"r":2.425,"E":-8.0247,"s":0},{"p":"e","c":0,"r":2.763,"E":-8.0039,"s":0},{"p":"e","c":0,"r":3.0,"E":-7.9935,"s":0.3},{"p":"e","c":0,"r":3.177,"E":-7.9869,"s":0.45},{"p":"e","c":0,"r":3.365,"E":-7.9816,"s":0.6},{"p":"e","c":0,"r":3.741,"E":-7.9756,"s":0.85},{"p":"e","c":0,"r":4.0,"E":-7.9735,"s":0.95},{"p":"e","c":0,"r":4.305,"E":-7.9726,"s":1},{"p":"e","c":0,"r":4.68,"E":-7.972,"s":1},{"p":"e","c":0,"r":5.0,"E":-7.972,"s":1},
{"p":"e","c":1,"r":1.2,"E":-7.9101,"s":2},{"p":"e","c":1,"r":1.297,"E":-7.9265,"s":2},{"p":"e","c":1,"r":1.41,"E":-7.9414,"s":2},{"p":"e","c":1,"r":1.523,"E":-7.9503,"s":2},{"p":"e","c":1,"r":1.673,"E":-7.9563,"s":2},{"p":"e","c":1,"r":1.861,"E":-7.9593,"s":2},{"p":"e","c":1,"r":2.0,"E":-7.9598,"s":2},{"p":"e","c":1,"r":2.237,"E":-7.961,"s":2},{"p":"e","c":1,"r":2.425,"E":-7.9616,"s":2},{"p":"e","c":1,"r":2.613,"E":-7.9622,"s":2},{"p":"e","c":1,"r":2.756,"E":-7.9631,"s":2},{"p":"e","c":1,"r":2.801,"E":-7.9587,"s":1.6},{"p":"e","c":1,"r":2.876,"E":-7.9533,"s":1.3},{"p":"e","c":1,"r":2.989,"E":-7.9474,"s":1.05},{"p":"e","c":1,"r":3.177,"E":-7.9399,"s":0.95},{"p":"e","c":1,"r":3.365,"E":-7.936,"s":0.8},{"p":"e","c":1,"r":3.553,"E":-7.9339,"s":0.6},{"p":"e","c":1,"r":3.741,"E":-7.9324,"s":0.5},{"p":"e","c":1,"r":3.929,"E":-7.9289,"s":0.45},{"p":"e","c":1,"r":4.117,"E":-7.9235,"s":0.45},{"p":"e","c":1,"r":4.305,"E":-7.9176,"s":0.5},{"p":"e","c":1,"r":4.492,"E":-7.9116,"s":0.55},{"p":"e","c":1,"r":4.68,"E":-7.9072,"s":0.6},{"p":"e","c":1,"r":4.868,"E":-7.9042,"s":0.65},{"p":"e","c":1,"r":5.0,"E":-7.9027,"s":0.7},
{"p":"e","c":2,"r":1.2,"E":-7.8833,"s":0},{"p":"e","c":2,"r":1.297,"E":-7.8997,"s":0},{"p":"e","c":2,"r":1.41,"E":-7.9131,"s":0},{"p":"e","c":2,"r":1.523,"E":-7.9221,"s":0},{"p":"e","c":2,"r":1.673,"E":-7.928,"s":0},{"p":"e","c":2,"r":1.861,"E":-7.9301,"s":0},{"p":"e","c":2,"r":2.0,"E":-7.9295,"s":0},{"p":"e","c":2,"r":2.237,"E":-7.9265,"s":0},{"p":"e","c":2,"r":2.425,"E":-7.9221,"s":0},{"p":"e","c":2,"r":2.613,"E":-7.9161,"s":0},{"p":"e","c":2,"r":2.756,"E":-7.911,"s":0},{"p":"e","c":2,"r":2.782,"E":-7.9072,"s":0.25},{"p":"e","c":2,"r":2.82,"E":-7.9012,"s":0.45},{"p":"e","c":2,"r":2.876,"E":-7.8952,"s":0.65},{"p":"e","c":2,"r":2.951,"E":-7.8863,"s":0.85},{"p":"e","c":2,"r":3.026,"E":-7.8804,"s":0.95},{"p":"e","c":2,"r":3.177,"E":-7.8759,"s":1},{"p":"e","c":2,"r":3.365,"E":-7.8753,"s":1},{"p":"e","c":2,"r":3.553,"E":-7.8765,"s":1},{"p":"e","c":2,"r":3.741,"E":-7.8798,"s":1},{"p":"e","c":2,"r":3.929,"E":-7.8813,"s":1},{"p":"e","c":2,"r":4.117,"E":-7.8819,"s":0.9},{"p":"e","c":2,"r":4.305,"E":-7.881,"s":0.85},{"p":"e","c":2,"r":4.492,"E":-7.8774,"s":0.75},{"p":"e","c":2,"r":4.68,"E":-7.8735,"s":0.65},{"p":"e","c":2,"r":4.868,"E":-7.8685,"s":0.6},{"p":"e","c":2,"r":5.0,"E":-7.8646,"s":0.55},
{"p":"e","c":3,"r":1.2,"E":-7.87,"s":2},{"p":"e","c":3,"r":1.297,"E":-7.8863,"s":2},{"p":"e","c":3,"r":1.41,"E":-7.8982,"s":2},{"p":"e","c":3,"r":1.523,"E":-7.9086,"s":2},{"p":"e","c":3,"r":1.673,"E":-7.914,"s":2},{"p":"e","c":3,"r":1.861,"E":-7.9146,"s":2},{"p":"e","c":3,"r":2.0,"E":-7.9131,"s":2},{"p":"e","c":3,"r":2.237,"E":-7.9086,"s":2},{"p":"e","c":3,"r":2.425,"E":-7.9042,"s":2},{"p":"e","c":3,"r":2.613,"E":-7.8997,"s":2},{"p":"e","c":3,"r":2.756,"E":-7.8961,"s":2},{"p":"e","c":3,"r":2.771,"E":-7.8997,"s":1.6},{"p":"e","c":3,"r":2.793,"E":-7.9042,"s":1.3},{"p":"e","c":3,"r":2.838,"E":-7.9063,"s":1.05},{"p":"e","c":3,"r":2.989,"E":-7.9072,"s":1},{"p":"e","c":3,"r":3.177,"E":-7.9057,"s":1},{"p":"e","c":3,"r":3.365,"E":-7.9033,"s":1},{"p":"e","c":3,"r":3.741,"E":-7.9012,"s":1},{"p":"e","c":3,"r":4.117,"E":-7.9003,"s":1},{"p":"e","c":3,"r":4.492,"E":-7.9003,"s":1},{"p":"e","c":3,"r":5.0,"E":-7.9003,"s":1},
{"p":"e","c":4,"r":1.2,"E":-7.8461,"s":0},{"p":"e","c":4,"r":1.297,"E":-7.8625,"s":0},{"p":"e","c":4,"r":1.41,"E":-7.8759,"s":0},{"p":"e","c":4,"r":1.523,"E":-7.8863,"s":0},{"p":"e","c":4,"r":1.673,"E":-7.8938,"s":0},{"p":"e","c":4,"r":1.861,"E":-7.8961,"s":0},{"p":"e","c":4,"r":2.0,"E":-7.8952,"s":0},{"p":"e","c":4,"r":2.237,"E":-7.8914,"s":0},{"p":"e","c":4,"r":2.425,"E":-7.8878,"s":0},{"p":"e","c":4,"r":2.613,"E":-7.8848,"s":0},{"p":"e","c":4,"r":2.756,"E":-7.8813,"s":0},{"p":"e","c":4,"r":2.782,"E":-7.87,"s":0.4},{"p":"e","c":4,"r":2.82,"E":-7.8566,"s":0.7},{"p":"e","c":4,"r":2.857,"E":-7.8446,"s":0.9},{"p":"e","c":4,"r":2.906,"E":-7.8336,"s":1},{"p":"e","c":4,"r":3.064,"E":-7.8319,"s":1},{"p":"e","c":4,"r":3.365,"E":-7.8289,"s":1},{"p":"e","c":4,"r":3.553,"E":-7.8283,"s":1},{"p":"e","c":4,"r":3.741,"E":-7.8289,"s":1},{"p":"e","c":4,"r":4.117,"E":-7.8298,"s":1},{"p":"e","c":4,"r":4.492,"E":-7.8304,"s":1},{"p":"e","c":4,"r":5.0,"E":-7.8307,"s":1},
{"p":"e","c":5,"r":1.2,"E":-7.8238,"s":2},{"p":"e","c":5,"r":1.297,"E":-7.8402,"s":2},{"p":"e","c":5,"r":1.41,"E":-7.8551,"s":2},{"p":"e","c":5,"r":1.523,"E":-7.864,"s":2},{"p":"e","c":5,"r":1.673,"E":-7.8679,"s":2},{"p":"e","c":5,"r":1.861,"E":-7.8664,"s":2},{"p":"e","c":5,"r":2.0,"E":-7.864,"s":2},{"p":"e","c":5,"r":2.124,"E":-7.8616,"s":2},{"p":"e","c":5,"r":2.237,"E":-7.8625,"s":2},{"p":"e","c":5,"r":2.425,"E":-7.8655,"s":2},{"p":"e","c":5,"r":2.613,"E":-7.8676,"s":2},{"p":"e","c":5,"r":2.756,"E":-7.8685,"s":2},{"p":"e","c":5,"r":2.801,"E":-7.8646,"s":1.5},{"p":"e","c":5,"r":2.876,"E":-7.858,"s":1.1},{"p":"e","c":5,"r":2.951,"E":-7.8491,"s":0.8},{"p":"e","c":5,"r":3.026,"E":-7.8402,"s":0.5},{"p":"e","c":5,"r":3.09,"E":-7.8313,"s":0.4},
{"p":"e","c":6,"r":2.857,"E":-7.8485,"s":0.9},{"p":"e","c":6,"r":2.989,"E":-7.8467,"s":1},{"p":"e","c":6,"r":3.177,"E":-7.8446,"s":1},{"p":"e","c":6,"r":3.365,"E":-7.8432,"s":1},{"p":"e","c":6,"r":3.741,"E":-7.8423,"s":1},{"p":"e","c":6,"r":4.117,"E":-7.8423,"s":1},{"p":"e","c":6,"r":4.492,"E":-7.8426,"s":1},{"p":"e","c":6,"r":5.0,"E":-7.8426,"s":1},

{"p":"f","c":0,"r":1.2,"E":-8.0232,"s":0},{"p":"f","c":0,"r":1.297,"E":-8.0411,"s":0},{"p":"f","c":0,"r":1.41,"E":-8.0515,"s":0},{"p":"f","c":0,"r":1.485,"E":-8.0551,"s":0},{"p":"f","c":0,"r":1.598,"E":-8.0569,"s":0},{"p":"f","c":0,"r":1.711,"E":-8.0561,"s":0},{"p":"f","c":0,"r":1.786,"E":-8.0545,"s":0},{"p":"f","c":0,"r":2.011,"E":-8.047,"s":0},{"p":"f","c":0,"r":2.237,"E":-8.0351,"s":0},{"p":"f","c":0,"r":2.425,"E":-8.0247,"s":0},{"p":"f","c":0,"r":2.756,"E":-8.0018,"s":0},{"p":"f","c":0,"r":3.0,"E":-7.992,"s":0.3},{"p":"f","c":0,"r":3.177,"E":-7.986,"s":0.45},{"p":"f","c":0,"r":3.365,"E":-7.981,"s":0.6},{"p":"f","c":0,"r":3.741,"E":-7.9756,"s":0.85},{"p":"f","c":0,"r":4.0,"E":-7.9735,"s":0.95},{"p":"f","c":0,"r":4.305,"E":-7.9726,"s":1},{"p":"f","c":0,"r":4.68,"E":-7.972,"s":1},{"p":"f","c":0,"r":5.0,"E":-7.972,"s":1},
{"p":"f","c":1,"r":1.2,"E":-7.9086,"s":2},{"p":"f","c":1,"r":1.297,"E":-7.9265,"s":2},{"p":"f","c":1,"r":1.41,"E":-7.9414,"s":2},{"p":"f","c":1,"r":1.523,"E":-7.9503,"s":2},{"p":"f","c":1,"r":1.673,"E":-7.9578,"s":2},{"p":"f","c":1,"r":1.861,"E":-7.9622,"s":2},{"p":"f","c":1,"r":2.011,"E":-7.9646,"s":2},{"p":"f","c":1,"r":2.237,"E":-7.9676,"s":2},{"p":"f","c":1,"r":2.425,"E":-7.9712,"s":2},{"p":"f","c":1,"r":2.613,"E":-7.9771,"s":2},{"p":"f","c":1,"r":2.707,"E":-7.986,"s":2},{"p":"f","c":1,"r":2.744,"E":-7.995,"s":2},{"p":"f","c":1,"r":2.756,"E":-8.0018,"s":2},{"p":"f","c":1,"r":2.771,"E":-7.989,"s":1.8},{"p":"f","c":1,"r":2.801,"E":-7.9786,"s":1.5},{"p":"f","c":1,"r":2.857,"E":-7.9682,"s":1.2},{"p":"f","c":1,"r":2.951,"E":-7.9578,"s":1},{"p":"f","c":1,"r":3.102,"E":-7.9488,"s":1},{"p":"f","c":1,"r":3.252,"E":-7.9429,"s":0.85},{"p":"f","c":1,"r":3.44,"E":-7.939,"s":0.65},{"p":"f","c":1,"r":3.665,"E":-7.936,"s":0.5},{"p":"f","c":1,"r":3.853,"E":-7.9324,"s":0.45},{"p":"f","c":1,"r":4.041,"E":-7.9265,"s":0.45},{"p":"f","c":1,"r":4.305,"E":-7.9176,"s":0.5},{"p":"f","c":1,"r":4.492,"E":-7.9122,"s":0.55},{"p":"f","c":1,"r":4.68,"E":-7.908,"s":0.6},{"p":"f","c":1,"r":4.868,"E":-7.9051,"s":0.65},{"p":"f","c":1,"r":5.0,"E":-7.9036,"s":0.7},
{"p":"f","c":2,"r":1.2,"E":-7.8878,"s":0},{"p":"f","c":2,"r":1.297,"E":-7.9027,"s":0},{"p":"f","c":2,"r":1.41,"E":-7.9161,"s":0},{"p":"f","c":2,"r":1.523,"E":-7.925,"s":0},{"p":"f","c":2,"r":1.673,"E":-7.931,"s":0},{"p":"f","c":2,"r":1.861,"E":-7.933,"s":0},{"p":"f","c":2,"r":2.011,"E":-7.9324,"s":0},{"p":"f","c":2,"r":2.237,"E":-7.9289,"s":0},{"p":"f","c":2,"r":2.425,"E":-7.925,"s":0},{"p":"f","c":2,"r":2.613,"E":-7.92,"s":0},{"p":"f","c":2,"r":2.756,"E":-7.9161,"s":0},{"p":"f","c":2,"r":2.782,"E":-7.9116,"s":0.25},{"p":"f","c":2,"r":2.82,"E":-7.9063,"s":0.45},{"p":"f","c":2,"r":2.876,"E":-7.8967,"s":0.65},{"p":"f","c":2,"r":2.951,"E":-7.8878,"s":0.85},{"p":"f","c":2,"r":3.026,"E":-7.8813,"s":0.95},{"p":"f","c":2,"r":3.177,"E":-7.8774,"s":1},{"p":"f","c":2,"r":3.365,"E":-7.8765,"s":1},{"p":"f","c":2,"r":3.553,"E":-7.8783,"s":1},{"p":"f","c":2,"r":3.741,"E":-7.881,"s":1},{"p":"f","c":2,"r":3.929,"E":-7.8819,"s":1},{"p":"f","c":2,"r":4.117,"E":-7.8819,"s":0.9},{"p":"f","c":2,"r":4.305,"E":-7.8804,"s":0.85},{"p":"f","c":2,"r":4.492,"E":-7.8774,"s":0.75},{"p":"f","c":2,"r":4.68,"E":-7.8735,"s":0.65},{"p":"f","c":2,"r":4.868,"E":-7.8685,"s":0.6},{"p":"f","c":2,"r":5.0,"E":-7.8655,"s":0.55},
{"p":"f","c":3,"r":1.2,"E":-7.8744,"s":2},{"p":"f","c":3,"r":1.297,"E":-7.8908,"s":2},{"p":"f","c":3,"r":1.41,"E":-7.9027,"s":2},{"p":"f","c":3,"r":1.523,"E":-7.9116,"s":2},{"p":"f","c":3,"r":1.673,"E":-7.9161,"s":2},{"p":"f","c":3,"r":1.861,"E":-7.9176,"s":2},{"p":"f","c":3,"r":2.011,"E":-7.9161,"s":2},{"p":"f","c":3,"r":2.237,"E":-7.9122,"s":2},{"p":"f","c":3,"r":2.425,"E":-7.908,"s":2},{"p":"f","c":3,"r":2.613,"E":-7.9027,"s":2},{"p":"f","c":3,"r":2.756,"E":-7.8973,"s":2},{"p":"f","c":3,"r":2.771,"E":-7.9012,"s":1.5},{"p":"f","c":3,"r":2.793,"E":-7.9057,"s":1.2},{"p":"f","c":3,"r":2.838,"E":-7.908,"s":1.05},{"p":"f","c":3,"r":2.989,"E":-7.908,"s":1},{"p":"f","c":3,"r":3.177,"E":-7.9066,"s":1},{"p":"f","c":3,"r":3.365,"E":-7.9045,"s":1},{"p":"f","c":3,"r":3.741,"E":-7.9021,"s":1},{"p":"f","c":3,"r":4.117,"E":-7.9012,"s":1},{"p":"f","c":3,"r":4.492,"E":-7.9009,"s":1},{"p":"f","c":3,"r":5.0,"E":-7.9006,"s":1},
{"p":"f","c":4,"r":1.2,"E":-7.8491,"s":0},{"p":"f","c":4,"r":1.297,"E":-7.8655,"s":0},{"p":"f","c":4,"r":1.41,"E":-7.8789,"s":0},{"p":"f","c":4,"r":1.523,"E":-7.8878,"s":0},{"p":"f","c":4,"r":1.673,"E":-7.8938,"s":0},{"p":"f","c":4,"r":1.861,"E":-7.8967,"s":0},{"p":"f","c":4,"r":2.011,"E":-7.8961,"s":0},{"p":"f","c":4,"r":2.237,"E":-7.8923,"s":0},{"p":"f","c":4,"r":2.425,"E":-7.8893,"s":0},{"p":"f","c":4,"r":2.613,"E":-7.8854,"s":0},{"p":"f","c":4,"r":2.756,"E":-7.8819,"s":0},{"p":"f","c":4,"r":2.782,"E":-7.8714,"s":0.4},{"p":"f","c":4,"r":2.82,"E":-7.858,"s":0.7},{"p":"f","c":4,"r":2.857,"E":-7.8461,"s":0.9},{"p":"f","c":4,"r":2.906,"E":-7.8342,"s":1},{"p":"f","c":4,"r":3.064,"E":-7.8322,"s":1},{"p":"f","c":4,"r":3.365,"E":-7.8289,"s":1},{"p":"f","c":4,"r":3.553,"E":-7.8283,"s":1},{"p":"f","c":4,"r":3.741,"E":-7.8289,"s":1},{"p":"f","c":4,"r":4.117,"E":-7.8298,"s":1},{"p":"f","c":4,"r":4.492,"E":-7.8304,"s":1},{"p":"f","c":4,"r":5.0,"E":-7.8307,"s":1},
{"p":"f","c":5,"r":1.2,"E":-7.8253,"s":2},{"p":"f","c":5,"r":1.297,"E":-7.8417,"s":2},{"p":"f","c":5,"r":1.41,"E":-7.8566,"s":2},{"p":"f","c":5,"r":1.523,"E":-7.8655,"s":2},{"p":"f","c":5,"r":1.673,"E":-7.8685,"s":2},{"p":"f","c":5,"r":1.861,"E":-7.867,"s":2},{"p":"f","c":5,"r":2.011,"E":-7.8655,"s":2},{"p":"f","c":5,"r":2.117,"E":-7.8634,"s":2},{"p":"f","c":5,"r":2.237,"E":-7.8655,"s":2},{"p":"f","c":5,"r":2.425,"E":-7.8685,"s":2},{"p":"f","c":5,"r":2.613,"E":-7.8714,"s":2},{"p":"f","c":5,"r":2.756,"E":-7.8735,"s":2},{"p":"f","c":5,"r":2.801,"E":-7.8685,"s":1.5},{"p":"f","c":5,"r":2.876,"E":-7.861,"s":1.1},{"p":"f","c":5,"r":2.97,"E":-7.8506,"s":0.75},{"p":"f","c":5,"r":3.045,"E":-7.8417,"s":0.5},{"p":"f","c":5,"r":3.12,"E":-7.8328,"s":0.4},
{"p":"f","c":6,"r":2.857,"E":-7.8485,"s":0.9},{"p":"f","c":6,"r":2.989,"E":-7.8467,"s":1},{"p":"f","c":6,"r":3.177,"E":-7.8446,"s":1},{"p":"f","c":6,"r":3.365,"E":-7.8432,"s":1},{"p":"f","c":6,"r":3.741,"E":-7.8423,"s":1},{"p":"f","c":6,"r":4.117,"E":-7.8423,"s":1},{"p":"f","c":6,"r":4.492,"E":-7.8426,"s":1},{"p":"f","c":6,"r":5.0,"E":-7.8426,"s":1}
]},
"columns": 2,
"spacing": {"row": 33, "column": 52},
"resolve": {"scale": {"color": "independent"}, "legend": {"color": "independent"}},
"concat": [
 {"width": 338, "height": 337, "title": {"text": "(a) PBE/TDA"},
  "transform": [{"filter": "datum.p == 'a'"}, {"window": [{"op": "lead", "field": "r", "as": "r2"}, {"op": "lead", "field": "E", "as": "E2"}], "groupby": ["c"], "sort": [{"field": "r", "order": "ascending"}]}, {"filter": "datum.r2 != null"}],
  "mark": {"type": "rule", "strokeWidth": 4.8, "strokeCap": "round"},
  "encoding": {
   "x": {"field": "r", "type": "quantitative", "scale": {"domain": [1.2, 5], "nice": false, "zero": false}, "axis": {"values": [2, 3, 4, 5], "format": "d", "title": "r (Å)"}},
   "x2": {"field": "r2"},
   "y": {"field": "E", "type": "quantitative", "scale": {"domain": [-8.1, -7.8], "nice": false, "zero": false}, "axis": {"values": [-8.1, -8.05, -8.0, -7.95, -7.9, -7.85, -7.8], "format": ".2f", "title": "E (a.u.)"}},
   "y2": {"field": "E2"},
   "color": {"field": "s", "type": "quantitative", "scale": {"domain": [0, 1, 2], "range": ["#1473b7", "#d62728", "#2ca02c"], "interpolate": "rgb"}, "legend": {"title": "⟨S²⟩", "values": [0, 0.25, 0.5, 0.75, 1, 1.25, 1.5, 1.75, 2], "format": ".2f", "encode": {"labels": {"update": {"baseline": {"value": "middle"}, "dx": {"value": 5}}}}}}
  }},
 {"width": 338, "height": 337, "title": {"text": "(b) PBE/TDDFT"},
  "transform": [{"filter": "datum.p == 'b'"}, {"window": [{"op": "lead", "field": "r", "as": "r2"}, {"op": "lead", "field": "E", "as": "E2"}], "groupby": ["c"], "sort": [{"field": "r", "order": "ascending"}]}, {"filter": "datum.r2 != null"}],
  "mark": {"type": "rule", "strokeWidth": 4.8, "strokeCap": "round"},
  "encoding": {
   "x": {"field": "r", "type": "quantitative", "scale": {"domain": [1.2, 5], "nice": false, "zero": false}, "axis": {"values": [2, 3, 4, 5], "format": "d", "title": "r (Å)"}},
   "x2": {"field": "r2"},
   "y": {"field": "E", "type": "quantitative", "scale": {"domain": [-8.1, -7.8], "nice": false, "zero": false}, "axis": {"values": [-8.1, -8.05, -8.0, -7.95, -7.9, -7.85, -7.8], "format": ".2f", "title": "E (a.u.)"}},
   "y2": {"field": "E2"},
   "color": {"field": "s", "type": "quantitative", "scale": {"domain": [0, 1, 2], "range": ["#1473b7", "#d62728", "#2ca02c"], "interpolate": "rgb"}, "legend": {"title": "⟨S²⟩", "values": [0, 0.25, 0.5, 0.75, 1, 1.25, 1.5, 1.75, 2], "format": ".2f", "encode": {"labels": {"update": {"baseline": {"value": "middle"}, "dx": {"value": 5}}}}}}
  }},
 {"width": 338, "height": 337, "title": {"text": "(c) PBE0/TDA"},
  "transform": [{"filter": "datum.p == 'c'"}, {"window": [{"op": "lead", "field": "r", "as": "r2"}, {"op": "lead", "field": "E", "as": "E2"}], "groupby": ["c"], "sort": [{"field": "r", "order": "ascending"}]}, {"filter": "datum.r2 != null"}],
  "mark": {"type": "rule", "strokeWidth": 4.8, "strokeCap": "round"},
  "encoding": {
   "x": {"field": "r", "type": "quantitative", "scale": {"domain": [1.2, 5], "nice": false, "zero": false}, "axis": {"values": [2, 3, 4, 5], "format": "d", "title": "r (Å)"}},
   "x2": {"field": "r2"},
   "y": {"field": "E", "type": "quantitative", "scale": {"domain": [-8.1, -7.8], "nice": false, "zero": false}, "axis": {"values": [-8.1, -8.05, -8.0, -7.95, -7.9, -7.85, -7.8], "format": ".2f", "title": "E (a.u.)"}},
   "y2": {"field": "E2"},
   "color": {"field": "s", "type": "quantitative", "scale": {"domain": [0, 1, 2], "range": ["#1473b7", "#d62728", "#2ca02c"], "interpolate": "rgb"}, "legend": {"title": "⟨S²⟩", "values": [0, 0.25, 0.5, 0.75, 1, 1.25, 1.5, 1.75, 2], "format": ".2f", "encode": {"labels": {"update": {"baseline": {"value": "middle"}, "dx": {"value": 5}}}}}}
  }},
 {"width": 338, "height": 337, "title": {"text": "(d) PBE0/TDDFT"},
  "transform": [{"filter": "datum.p == 'd'"}, {"window": [{"op": "lead", "field": "r", "as": "r2"}, {"op": "lead", "field": "E", "as": "E2"}], "groupby": ["c"], "sort": [{"field": "r", "order": "ascending"}]}, {"filter": "datum.r2 != null"}],
  "mark": {"type": "rule", "strokeWidth": 4.8, "strokeCap": "round"},
  "encoding": {
   "x": {"field": "r", "type": "quantitative", "scale": {"domain": [1.2, 5], "nice": false, "zero": false}, "axis": {"values": [2, 3, 4, 5], "format": "d", "title": "r (Å)"}},
   "x2": {"field": "r2"},
   "y": {"field": "E", "type": "quantitative", "scale": {"domain": [-8.1, -7.8], "nice": false, "zero": false}, "axis": {"values": [-8.1, -8.05, -8.0, -7.95, -7.9, -7.85, -7.8], "format": ".2f", "title": "E (a.u.)"}},
   "y2": {"field": "E2"},
   "color": {"field": "s", "type": "quantitative", "scale": {"domain": [0, 1, 2], "range": ["#1473b7", "#d62728", "#2ca02c"], "interpolate": "rgb"}, "legend": {"title": "⟨S²⟩", "values": [0, 0.25, 0.5, 0.75, 1, 1.25, 1.5, 1.75, 2], "format": ".2f", "encode": {"labels": {"update": {"baseline": {"value": "middle"}, "dx": {"value": 5}}}}}}
  }},
 {"width": 338, "height": 337, "title": {"text": "(e) LRC-ωPBEh/TDA"},
  "transform": [{"filter": "datum.p == 'e'"}, {"window": [{"op": "lead", "field": "r", "as": "r2"}, {"op": "lead", "field": "E", "as": "E2"}], "groupby": ["c"], "sort": [{"field": "r", "order": "ascending"}]}, {"filter": "datum.r2 != null"}],
  "mark": {"type": "rule", "strokeWidth": 4.8, "strokeCap": "round"},
  "encoding": {
   "x": {"field": "r", "type": "quantitative", "scale": {"domain": [1.2, 5], "nice": false, "zero": false}, "axis": {"values": [2, 3, 4, 5], "format": "d", "title": "r (Å)"}},
   "x2": {"field": "r2"},
   "y": {"field": "E", "type": "quantitative", "scale": {"domain": [-8.1, -7.8], "nice": false, "zero": false}, "axis": {"values": [-8.1, -8.05, -8.0, -7.95, -7.9, -7.85, -7.8], "format": ".2f", "title": "E (a.u.)"}},
   "y2": {"field": "E2"},
   "color": {"field": "s", "type": "quantitative", "scale": {"domain": [0, 1, 2], "range": ["#1473b7", "#d62728", "#2ca02c"], "interpolate": "rgb"}, "legend": {"title": "⟨S²⟩", "values": [0, 0.25, 0.5, 0.75, 1, 1.25, 1.5, 1.75, 2], "format": ".2f", "encode": {"labels": {"update": {"baseline": {"value": "middle"}, "dx": {"value": 5}}}}}}
  }},
 {"width": 338, "height": 337, "title": {"text": "(f) LRC-ωPBEh/TDDFT"},
  "transform": [{"filter": "datum.p == 'f'"}, {"window": [{"op": "lead", "field": "r", "as": "r2"}, {"op": "lead", "field": "E", "as": "E2"}], "groupby": ["c"], "sort": [{"field": "r", "order": "ascending"}]}, {"filter": "datum.r2 != null"}],
  "mark": {"type": "rule", "strokeWidth": 4.8, "strokeCap": "round"},
  "encoding": {
   "x": {"field": "r", "type": "quantitative", "scale": {"domain": [1.2, 5], "nice": false, "zero": false}, "axis": {"values": [2, 3, 4, 5], "format": "d", "title": "r (Å)"}},
   "x2": {"field": "r2"},
   "y": {"field": "E", "type": "quantitative", "scale": {"domain": [-8.1, -7.8], "nice": false, "zero": false}, "axis": {"values": [-8.1, -8.05, -8.0, -7.95, -7.9, -7.85, -7.8], "format": ".2f", "title": "E (a.u.)"}},
   "y2": {"field": "E2"},
   "color": {"field": "s", "type": "quantitative", "scale": {"domain": [0, 1, 2], "range": ["#1473b7", "#d62728", "#2ca02c"], "interpolate": "rgb"}, "legend": {"title": "⟨S²⟩", "values": [0, 0.25, 0.5, 0.75, 1, 1.25, 1.5, 1.75, 2], "format": ".2f", "encode": {"labels": {"update": {"baseline": {"value": "middle"}, "dx": {"value": 5}}}}}}
  }}
]
}
